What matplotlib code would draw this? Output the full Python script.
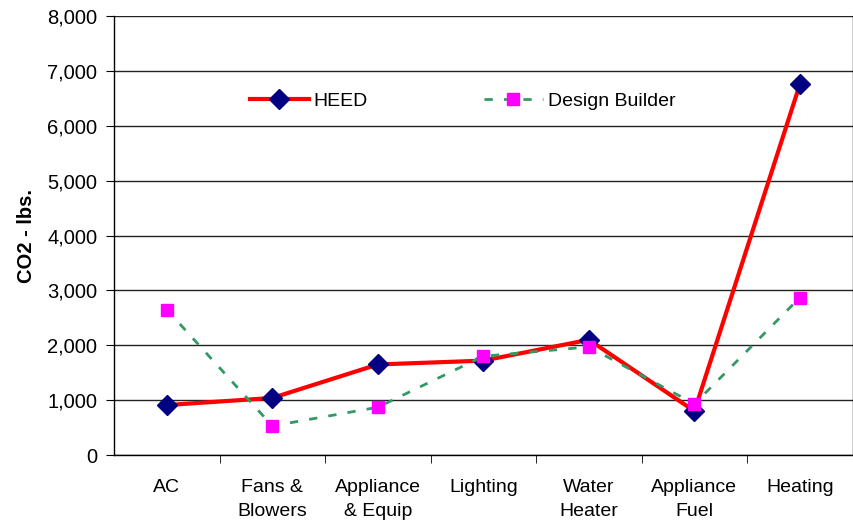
import matplotlib.pyplot as plt
from matplotlib.ticker import FuncFormatter, FixedLocator

plt.rcParams['font.family'] = ['Liberation Sans', 'DejaVu Sans']

categories = ['AC', 'Fans &\nBlowers', 'Appliance\n& Equip', 'Lighting',
              'Water\nHeater', 'Appliance\nFuel', 'Heating']
heed = [910, 1040, 1650, 1720, 2100, 800, 6760]
design_builder = [2650, 530, 870, 1800, 1970, 930, 2870]

fig = plt.figure(figsize=(8.54, 5.23), dpi=100)
ax = fig.add_axes([0.1335, 0.130, 0.865, 0.8394])

x = range(len(categories))
ax.plot(x, heed, color='#ff0000', lw=3, marker='D', ms=10,
        markerfacecolor='#000080', markeredgecolor='#000080', label='HEED', zorder=3)
ax.plot(x, design_builder, color='#339966', lw=2, ls=(0, (3, 4)), marker='s', ms=9,
        markerfacecolor='#ff00ff', markeredgecolor='#ff00ff', label='Design Builder', zorder=4)

ax.set_xlim(-0.5, len(categories) - 0.5)
ax.set_ylim(0, 8000)
ax.set_yticks(range(0, 8001, 1000))
ax.yaxis.set_major_formatter(FuncFormatter(lambda v, p: f'{int(v):,}'))
ax.grid(axis='y', color='#222222', lw=1)
ax.set_axisbelow(True)

ax.set_xticks(list(x))
ax.set_xticklabels(categories, fontsize=14, linespacing=1.6)
ax.tick_params(axis='x', length=0, pad=17)
ax.xaxis.set_minor_locator(FixedLocator([i + 0.5 for i in range(len(categories) - 1)]))
ax.tick_params(axis='x', which='minor', length=6, direction='out', color='black')
ax.tick_params(axis='y', length=6, direction='out', labelsize=14.5, color='black', pad=6)

ax.spines['top'].set_visible(False)
for s in ['left', 'bottom', 'right']:
    ax.spines[s].set_color('black')
    ax.spines[s].set_linewidth(1)

ax.set_ylabel('CO2 - lbs.', fontsize=14.5, fontweight='bold', labelpad=8)

ax.legend(loc='center', bbox_to_anchor=(0.472, 0.806), ncol=2, frameon=False,
          fontsize=14, columnspacing=6, handlelength=3.0, handletextpad=0.25)

fig.savefig('out.png', dpi=100)
